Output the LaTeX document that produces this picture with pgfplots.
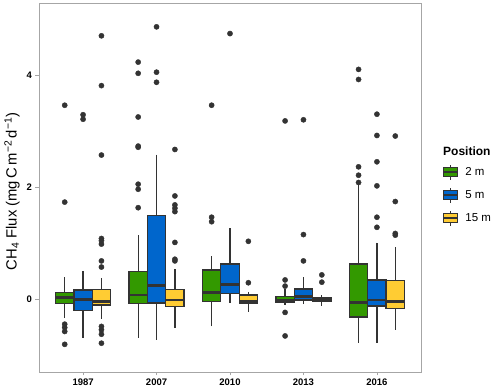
\documentclass[border=0pt]{standalone}
\usepackage{fontspec}
\setmainfont{Liberation Sans}
\usepackage{pgfplots}
\pgfplotsset{compat=1.18}
\usepgfplotslibrary{statistics}

\definecolor{cg}{HTML}{339900}
\definecolor{cb}{HTML}{0066CC}
\definecolor{cy}{HTML}{FFCC33}
\definecolor{dk}{HTML}{333333}
\definecolor{frame}{HTML}{A6A6A6}

% draw position, lower whisker, lower quartile, median, upper quartile, upper whisker, fill
\newcommand{\bx}[7]{%
  \addplot[forget plot, fill=#7, boxplot prepared={draw position=#1,
    lower whisker=#2, lower quartile=#3, median=#4,
    upper quartile=#5, upper whisker=#6}] coordinates {};}

\pgfplotsset{
  boxkey/.style={legend image code/.code={
    \path[draw=none, fill=none] (0pt,-11.5pt) rectangle (16pt,11.5pt);
    \draw[dk, line width=1.1pt] (8pt,-7.5pt) -- (8pt,7.5pt);
    \filldraw[fill=#1, draw=dk, line width=1.2pt] (1pt,-4.5pt) rectangle (15pt,4.5pt);
    \draw[dk, line width=2.2pt] (1pt,0pt) -- (15pt,0pt);
  }},
  outl/.style={forget plot, only marks, mark=*, mark size=2.6pt, dk},
}

\begin{document}
\begin{tikzpicture}
\useasboundingbox (-39pt,-18pt) rectangle (461pt,372pt);
\begin{axis}[
  scale only axis, width=382pt, height=369pt,
  xmin=0.4, xmax=5.6, ymin=-1.304, ymax=5.286,
  xtick={1,2,3,4,5}, xticklabels={1987,2007,2010,2013,2016},
  ytick={0,2,4},
  tick pos=left, tick align=outside, major tick length=3.5pt,
  axis line style={draw=frame, line width=0.8pt},
  tick style={frame, line width=0.8pt},
  ticklabel style={font=\bfseries\fontsize{9.5}{11}\selectfont, text=black},
  /pgf/number format/assume math mode=true,
  ylabel={CH\textsubscript{4} Flux (mg\,C\,m\textsuperscript{−2}\,d\textsuperscript{−1})},
  ylabel style={font=\fontsize{14.8}{17}\selectfont, xshift=-4pt},
  boxplot/draw direction=y,
  boxplot/box extend=0.25, boxplot/whisker extend=0,
  boxplot/every box/.style={draw=dk, line width=1.3pt},
  boxplot/every whisker/.style={draw=dk, line width=1.2pt},
  boxplot/every median/.style={draw=dk, line width=2.8pt},
  clip=false,
  legend style={draw=none, fill=none, at={(1.055,0.573)}, anchor=north west,
    font=\fontsize{11.5}{13}\selectfont, inner sep=0pt, row sep=0pt,
    column sep=6pt, nodes={inner sep=1pt}},
  legend cell align=left,
]
% 1987
\bx{0.75}{-0.34}{-0.08}{0.02}{0.12}{0.39}{cg}
\bx{1.00}{-0.70}{-0.21}{-0.01}{0.16}{0.50}{cb}
\bx{1.25}{-0.35}{-0.11}{-0.04}{0.17}{0.375}{cy}
% 2007
\bx{1.75}{-0.69}{-0.08}{0.07}{0.49}{1.14}{cg}
\bx{2.00}{-0.73}{-0.07}{0.24}{1.49}{2.58}{cb}
\bx{2.25}{-0.52}{-0.13}{-0.02}{0.17}{0.54}{cy}
% 2010
\bx{2.75}{-0.49}{-0.04}{0.11}{0.52}{0.76}{cg}
\bx{3.00}{-0.07}{0.10}{0.26}{0.625}{1.26}{cb}
\bx{3.25}{-0.23}{-0.08}{-0.04}{0.07}{0.13}{cy}
% 2013
\bx{3.75}{-0.11}{-0.06}{-0.03}{0.05}{0.17}{cg}
\bx{4.00}{-0.09}{-0.02}{0.05}{0.18}{0.39}{cb}
\bx{4.25}{-0.12}{-0.05}{-0.01}{0.02}{0.07}{cy}
% 2016
\bx{4.75}{-0.78}{-0.32}{-0.06}{0.625}{2.04}{cg}
\bx{5.00}{-0.78}{-0.125}{-0.02}{0.34}{1.005}{cb}
\bx{5.25}{-0.55}{-0.17}{-0.05}{0.33}{0.93}{cy}

% outliers
\addplot[outl] coordinates {
  (0.75,3.46) (0.75,1.73) (0.75,-0.45) (0.75,-0.51) (0.75,-0.58) (0.75,-0.81)
  (1.00,3.29) (1.00,3.21)
  (1.25,4.70) (1.25,3.81) (1.25,2.57) (1.25,1.08) (1.25,1.04) (1.25,0.98)
  (1.25,0.68) (1.25,0.57) (1.25,-0.49) (1.25,-0.55) (1.25,-0.63) (1.25,-0.79)
  (1.75,4.23) (1.75,4.03) (1.75,3.25) (1.75,2.73) (1.75,2.71) (1.75,2.05)
  (1.75,1.96) (1.75,1.63)
  (2.00,4.86) (2.00,4.05) (2.00,3.87)
  (2.25,2.67) (2.25,1.84) (2.25,1.68) (2.25,1.62) (2.25,1.56) (2.25,1.01)
  (2.25,0.71) (2.25,0.68)
  (2.75,3.46) (2.75,1.46) (2.75,1.38)
  (3.00,4.74)
  (3.25,1.03) (3.25,0.29)
  (3.75,3.18) (3.75,0.34) (3.75,0.23) (3.75,-0.24) (3.75,-0.66)
  (4.00,3.20) (4.00,1.15) (4.00,0.68)
  (4.25,0.43) (4.25,0.30)
  (4.75,4.10) (4.75,3.92) (4.75,2.36) (4.75,2.21) (4.75,2.08)
  (5.00,3.30) (5.00,2.92) (5.00,2.45) (5.00,2.02) (5.00,1.46) (5.00,1.28)
  (5.25,2.91) (5.25,1.74) (5.25,1.17) (5.25,1.14)
};

\addlegendimage{boxkey=cg}
\addlegendentry{2 m}
\addlegendimage{boxkey=cb}
\addlegendentry{5 m}
\addlegendimage{boxkey=cy}
\addlegendentry{15 m}

\node[anchor=base west, inner sep=0pt, font=\bfseries\fontsize{12}{14}\selectfont]
  at (rel axis cs:1.0576,0.5854) {Position};
\end{axis}
\end{tikzpicture}
\end{document}
